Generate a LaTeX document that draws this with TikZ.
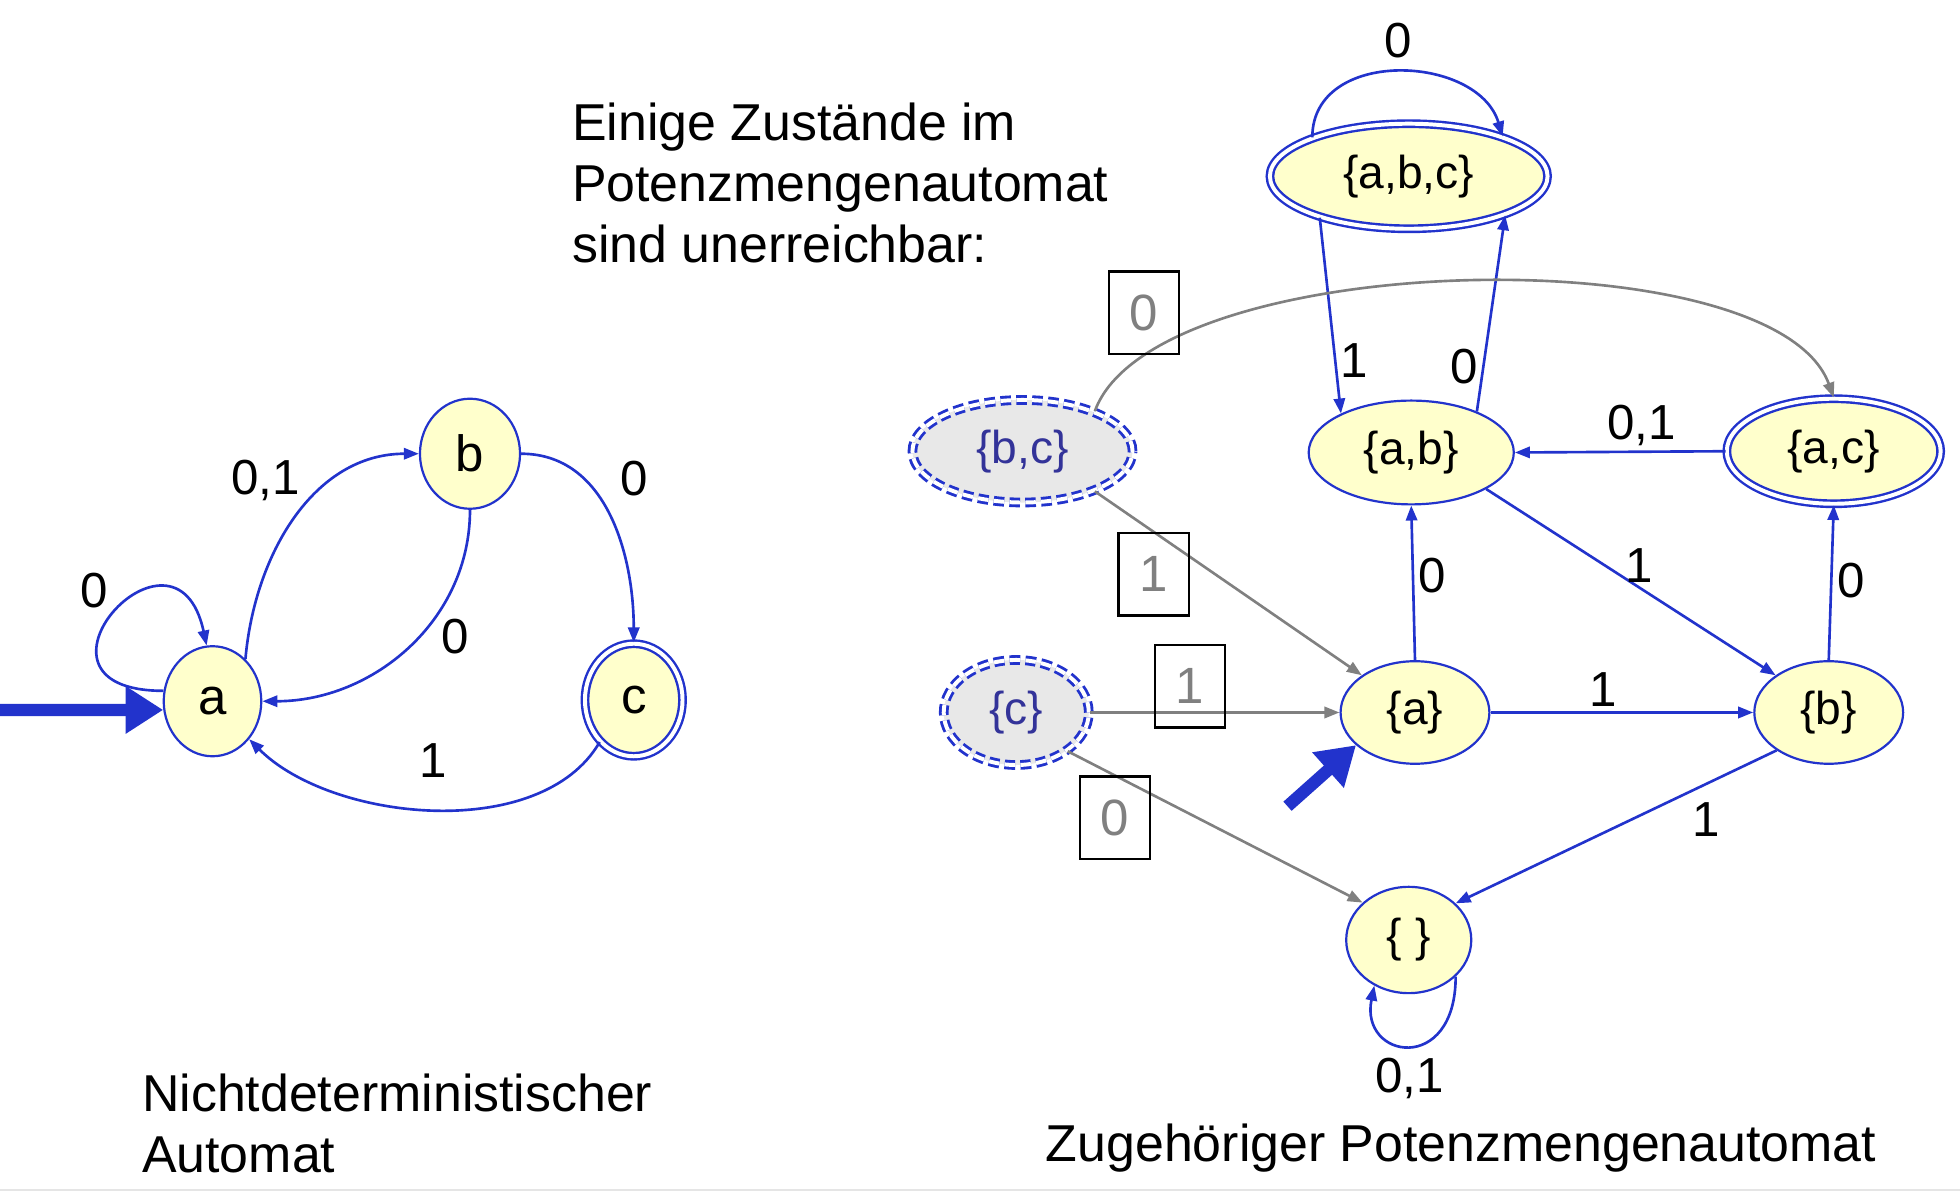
\documentclass[tikz,border=0pt]{standalone}
\usepackage{fontspec}
\setmainfont{Liberation Sans}
\usetikzlibrary{arrows.meta, shapes.geometric}

\definecolor{stateblue}{RGB}{34,51,204}
\definecolor{statefill}{RGB}{255,255,204}
\definecolor{deadfill}{RGB}{232,232,232}
\definecolor{deadtext}{RGB}{51,51,153}
\definecolor{edgegray}{RGB}{128,128,128}

\begin{document}
\begin{tikzpicture}
	[x=0.01cm, y=0.01cm,%
	nstate/.style   ={ellipse,	draw=stateblue,	fill=statefill,	line width=0.5pt,	inner sep=0pt,	font=\fontsize{11.6}{13}\selectfont},%
	setstate/.style ={nstate,	font=\fontsize{10.5}{12}\selectfont},%
	accept/.style   ={double=white,	double distance=0.9pt,	line width=0.55pt},%
	dead/.style     ={setstate,	accept,	line width=0.65pt,	fill=deadfill,	text=deadtext,	dash pattern=on 2.4pt off 1.2pt},%
	trans/.style    ={draw=stateblue,	line width=0.6pt,	-{Triangle[length=0.12cm,width=0.09cm]}},%
	graytrans/.style={draw=edgegray,	line width=0.6pt,	-{Triangle[length=0.12cm,width=0.09cm]}},%
	initarrow/.style={draw=stateblue,	line width=2.8pt,	-{Triangle[length=0.3cm,width=0.36cm]}},%
	lbl/.style      ={font=\fontsize{11.2}{13}\selectfont,	inner sep=1pt},%
	lblbox/.style   ={draw=black,	line width=0.5pt,	text=edgegray,	minimum width=0.56cm,	minimum height=0.66cm,	inner sep=0pt,	font=\fontsize{11.6}{13}\selectfont},%
	txt/.style      ={font=\fontsize{11.8}{13.9}\selectfont,	align=left,	inner sep=0pt},%
	]

	\useasboundingbox (0,0) rectangle (1568,954);

	% nodes
	% nondeterministic automaton
	\node (a) at (170,393) [nstate, minimum width=0.78cm, minimum height=0.88cm] {a};
	\node (b) at (376,591) [nstate, minimum width=0.80cm, minimum height=0.88cm] {b};
	\node (c) at (507,394) [nstate, accept, minimum width=0.78cm, minimum height=0.90cm] {c};

	% power set automaton
	\foreach \n/\x/\y/\w/\h/\t in {sab/1129/592/1.64/0.83/{\{a,b\}}, sa/1132/384/1.19/0.82/{\{a\}}, %
									sb/1463/384/1.19/0.82/{\{b\}}, sempty/1127/202/1.00/0.85/{\{ \}}}
		\node (\n) at (\x,\y) [setstate, minimum width=\w cm, minimum height=\h cm] {\t};
	\foreach \n/\x/\y/\w/\h/\t in {sabc/1127/813/2.22/0.84/{\{a,b,c\}}, sac/1467/593/1.71/0.84/{\{a,c\}}}
		\node (\n) at (\x,\y) [setstate, accept, minimum width=\w cm, minimum height=\h cm] {\t};
	% unreachable
	\foreach \n/\x/\y/\w/\h/\t in {sbc/818/593/1.76/0.82/{\{b,c\}}, sc/813/384/1.16/0.84/{\{c\}}}
		\node (\n) at (\x,\y) [dead, minimum width=\w cm, minimum height=\h cm] {\t};

	% texts
	\node (unreach) at (457,744) [txt, anchor=base west] {Einige Zustände im\\Potenzmengenautomat\\sind unerreichbar:};
	\node (ndfa) at (113,16) [txt, anchor=base west] {Nichtdeterministischer\\Automat};
	\node (pfa) at (836,25) [txt, anchor=base west] {Zugehöriger Potenzmengenautomat};

	% interconnections
	% initial states
	\coordinate (ina) at (0,386);
	\coordinate (insa) at (1030,309);
	\draw [initarrow] (ina) -- (a.190);
	\draw [initarrow] (insa) -- (sa.209);

	% nondeterministic automaton
	\draw [trans] (a.168) .. controls +(-128,0) and +(-25,116) .. (a.96) node [lbl, pos=0.5, above left] {0};
	\draw [trans] (a.52) to [out=85,in=180] node [lbl, pos=0.55, above left] {0,1} (b.west);
	\draw [trans] (b.south) to [out=270,in=0] node [lbl, pos=0.45, right=0.14cm] {0} (a.east);
	\draw [trans] (b.east) to [out=0,in=90] node [lbl, pos=0.3, right=0.25cm] {0} (c.north);
	\draw [trans] (c.231) to [out=240,in=315,looseness=0.85] node [lbl, pos=0.5, above=0.21cm] {1} (a.314);

	% power set automaton
	\foreach \i/\o/\l/\p/\w in {sabc.205/sab.151/1/0.73/right, sab.32/sabc.338/0/0.23/left, %
								sac.west/sab.east/{0,1}/0.4/above, sab.334/sb.145/1/0.53/above, %
								sa.north/sab.south/0/0.55/right, sb.north/sac.south/0/0.51/right, %
								sa.east/sb.west/1/0.43/above}
		\draw [trans] (\i) -- (\o) node [lbl, pos=\p, \w] {\l};
	\draw [trans] (sb.216) -- (sempty.38) node [lbl, pos=0.22, below=3pt] {1};
	\draw [trans] (sabc.158) .. controls +(0,72) and +(-20,66) .. (sabc.23) node [lbl, pos=0.5, above=0.07cm] {0};
	\draw [trans] (sempty.322) .. controls +(0,-79) and +(-12,-59) .. (sempty.233) node [lbl, pos=0.5, below=0.05cm] {0,1};

	% unreachable
	\draw [graytrans] (sbc.29) to [out=70,in=110,looseness=0.6] node [lblbox, pos=0.13, anchor=south] {0} (sac.north);
	\draw [graytrans] (sbc.331) -- (sa.145) node [lblbox, pos=0.22, anchor=north] {1};
	\draw [graytrans] (sc.east) -- (sa.west) node [lblbox, pos=0.4, yshift=0.21cm] {1};
	\draw [graytrans] (sc.323) -- (sempty.141) node [lblbox, pos=0.16, anchor=north] {0};

	% bottom edge
	\draw [gray!20] (0,2) -- (1568,2);

\end{tikzpicture}
\end{document}
